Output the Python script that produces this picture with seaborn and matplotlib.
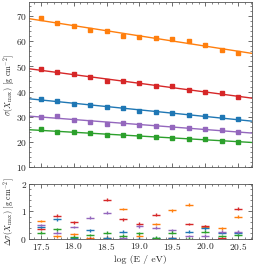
import numpy as np
import pandas as pd
import matplotlib
matplotlib.use("Agg")
import matplotlib.pyplot as plt
from matplotlib.ticker import MultipleLocator
import seaborn as sns

# ── Data ────────────────────────────────────────────────────────────────────
log_e = [17.5, 17.75, 18.0, 18.25, 18.5, 18.75, 19.0,
         19.25, 19.5, 19.75, 20.0, 20.25, 20.5]

sigma_orange = [69.1, 67.2, 65.9, 64.6, 64.0, 62.0, 61.7, 61.3, 60.8, 60.2, 58.5, 56.6, 55.4]
sigma_red    = [49.0, 47.6, 46.8, 45.7, 44.0, 44.0, 43.2, 42.2, 42.3, 40.7, 40.0, 39.3, 37.7]
sigma_blue   = [36.9, 36.4, 35.2, 34.8, 33.7, 33.4, 32.4, 31.7, 31.3, 30.7, 30.3, 29.7, 29.0]
sigma_purple = [30.0, 30.1, 28.8, 28.0, 27.2, 27.6, 26.8, 26.3, 25.9, 25.5, 25.1, 24.6, 23.9]
sigma_green  = [25.0, 23.8, 23.8, 23.4, 22.8, 22.9, 22.5, 21.9, 21.7, 21.1, 21.1, 20.5, 19.9]
sigma_err = 0.7

dsig_orange = [0.65, 0.10, 0.17, 0.02, 0.05, 1.09, 0.11, 0.54, 1.04, 1.25, 0.45, 0.39, 0.81]
dsig_red    = [0.36, 0.84, 0.61, 0.01, 1.43, 0.72, 0.55, 0.88, 0.02, 0.54, 0.47, 0.02, 1.10]
dsig_blue   = [0.43, 0.72, 0.05, 0.32, 0.04, 0.27, 0.01, 0.03, 0.02, 0.26, 0.39, 0.22, 0.23]
dsig_purple = [0.51, 0.23, 0.43, 0.78, 0.96, 0.04, 0.46, 0.41, 0.32, 0.11, 0.12, 0.27, 0.27]
dsig_green  = [0.23, 0.35, 0.07, 0.14, 0.23, 0.12, 0.21, 0.04, 0.23, 0.01, 0.26, 0.11, 0.14]

pal = sns.color_palette("tab10")
series = [
    (sigma_orange, dsig_orange, pal[1]),
    (sigma_red,    dsig_red,    pal[3]),
    (sigma_blue,   dsig_blue,   pal[0]),
    (sigma_purple, dsig_purple, pal[4]),
    (sigma_green,  dsig_green,  pal[2]),
]

# ── Style ───────────────────────────────────────────────────────────────────
sns.set_style("ticks")
plt.rcParams["font.family"] = ["cmr10", "DejaVu Serif"]
plt.rcParams["mathtext.fontset"] = "cm"
plt.rcParams["axes.formatter.use_mathtext"] = True
plt.rcParams["axes.linewidth"] = 0.6
plt.rcParams["axes.edgecolor"] = "#555555"
for ax_ in ("x", "y"):
    plt.rcParams[f"{ax_}tick.direction"] = "in"
    plt.rcParams[f"{ax_}tick.major.size"] = 3
    plt.rcParams[f"{ax_}tick.minor.size"] = 1.5
    plt.rcParams[f"{ax_}tick.major.width"] = 0.6
    plt.rcParams[f"{ax_}tick.minor.width"] = 0.5
    plt.rcParams[f"{ax_}tick.color"] = "#555555"
    plt.rcParams[f"{ax_}tick.labelcolor"] = "#222222"

fig = plt.figure(figsize=(2.54, 2.64), dpi=100)
ax1 = fig.add_axes([0.114, 0.367, 0.878, 0.625])
ax2 = fig.add_axes([0.114, 0.095, 0.878, 0.208])

XLIM = (17.32, 20.71)

# ── Top panel: sigma(Xmax) with linear fits ─────────────────────────────────
ax1.set_xlim(XLIM)
ax1.set_ylim(10, 75.5)
for sig, dsig, col in series:
    df = pd.DataFrame({"x": log_e, "y": sig})
    sns.regplot(data=df, x="x", y="y", ax=ax1, scatter=False, ci=None,
                truncate=False, color=col, line_kws={"lw": 1.0})
    ax1.errorbar(log_e, sig, yerr=sigma_err, fmt="s", ms=2.5,
                 color=col, ecolor=col, elinewidth=0.7, capsize=1.5,
                 capthick=0.7, mec=col, zorder=3)

ax1.set_ylabel(r"$\sigma(X_\mathrm{max})$ [g cm$^{-2}$]", fontsize=5.8)
ax1.yaxis.set_label_coords(-0.055, 0.5)
ax1.set_xlabel("")
ax1.xaxis.set_major_locator(MultipleLocator(0.5))
ax1.xaxis.set_minor_locator(MultipleLocator(0.1))
ax1.yaxis.set_major_locator(MultipleLocator(10))
ax1.yaxis.set_minor_locator(MultipleLocator(2))
ax1.tick_params(which="both", top=True, right=True, labelbottom=False, labelsize=6.8, pad=1.5)

# ── Bottom panel: uncertainty ───────────────────────────────────────────────
ax2.set_xlim(XLIM)
ax2.set_ylim(0, 2)
for sig, dsig, col in series:
    ax2.errorbar(log_e, dsig, xerr=0.06, yerr=0.05, fmt="none",
                 ecolor=col, elinewidth=1.0, zorder=3)

ax2.set_ylabel(r"$\Delta\sigma(X_\mathrm{max})$ [g cm$^{-2}$]", fontsize=5.8)
ax2.yaxis.set_label_coords(-0.055, 0.5)
ax2.set_xlabel("log (E / eV)", fontsize=7, labelpad=2)
ax2.xaxis.set_major_locator(MultipleLocator(0.5))
ax2.xaxis.set_minor_locator(MultipleLocator(0.1))
ax2.yaxis.set_major_locator(MultipleLocator(1))
ax2.yaxis.set_minor_locator(MultipleLocator(0.2))
ax2.tick_params(which="both", top=True, right=True, labelsize=6.8, pad=1.5)

fig.savefig("out.png", dpi=100)
